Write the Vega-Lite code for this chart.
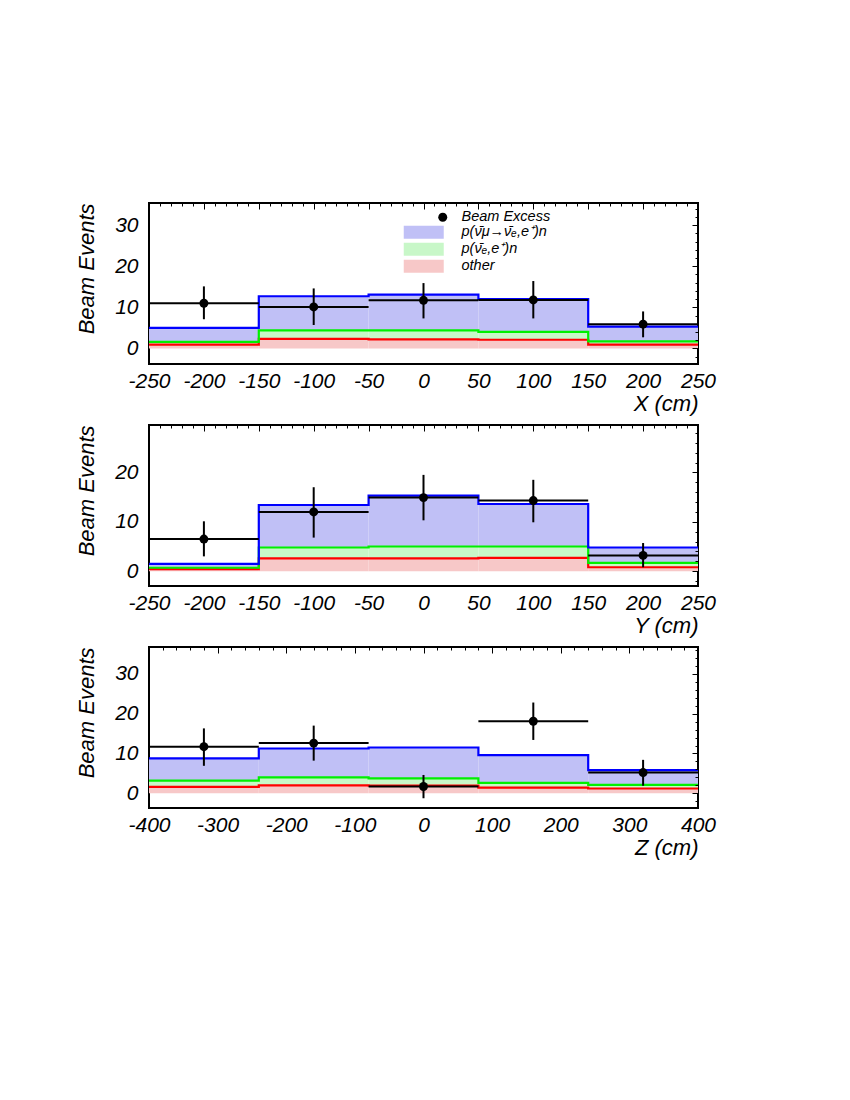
{
  "$schema": "https://vega.github.io/schema/vega-lite/v6.json",
  "background": "white",
  "padding": {"left": 73, "top": 201, "right": 20, "bottom": 20},
  "datasets": {
    "hist": [
      {"p": "X", "s": "oth", "x0": -250, "x1": -150, "lo": 0, "hi": 0.9},
      {"p": "X", "s": "oth", "x0": -150, "x1": -50, "lo": 0, "hi": 2.3},
      {"p": "X", "s": "oth", "x0": -50, "x1": 50, "lo": 0, "hi": 2.2},
      {"p": "X", "s": "oth", "x0": 50, "x1": 150, "lo": 0, "hi": 2.1},
      {"p": "X", "s": "oth", "x0": 150, "x1": 250, "lo": 0, "hi": 0.9},
      {"p": "X", "s": "nue", "x0": -250, "x1": -150, "lo": 0.9, "hi": 1.6},
      {"p": "X", "s": "nue", "x0": -150, "x1": -50, "lo": 2.3, "hi": 4.4},
      {"p": "X", "s": "nue", "x0": -50, "x1": 50, "lo": 2.2, "hi": 4.4},
      {"p": "X", "s": "nue", "x0": 50, "x1": 150, "lo": 2.1, "hi": 4.0},
      {"p": "X", "s": "nue", "x0": 150, "x1": 250, "lo": 0.9, "hi": 1.7},
      {"p": "X", "s": "osc", "x0": -250, "x1": -150, "lo": 1.6, "hi": 5.0},
      {"p": "X", "s": "osc", "x0": -150, "x1": -50, "lo": 4.4, "hi": 12.7},
      {"p": "X", "s": "osc", "x0": -50, "x1": 50, "lo": 4.4, "hi": 13.1},
      {"p": "X", "s": "osc", "x0": 50, "x1": 150, "lo": 4.0, "hi": 12.0},
      {"p": "X", "s": "osc", "x0": 150, "x1": 250, "lo": 1.7, "hi": 5.3},
      {"p": "Y", "s": "oth", "x0": -250, "x1": -150, "lo": 0, "hi": 0.4},
      {"p": "Y", "s": "oth", "x0": -150, "x1": -50, "lo": 0, "hi": 2.6},
      {"p": "Y", "s": "oth", "x0": -50, "x1": 50, "lo": 0, "hi": 2.6},
      {"p": "Y", "s": "oth", "x0": 50, "x1": 150, "lo": 0, "hi": 2.7},
      {"p": "Y", "s": "oth", "x0": 150, "x1": 250, "lo": 0, "hi": 0.8},
      {"p": "Y", "s": "nue", "x0": -250, "x1": -150, "lo": 0.4, "hi": 0.7},
      {"p": "Y", "s": "nue", "x0": -150, "x1": -50, "lo": 2.6, "hi": 4.8},
      {"p": "Y", "s": "nue", "x0": -50, "x1": 50, "lo": 2.6, "hi": 5.0},
      {"p": "Y", "s": "nue", "x0": 50, "x1": 150, "lo": 2.7, "hi": 5.0},
      {"p": "Y", "s": "nue", "x0": 150, "x1": 250, "lo": 0.8, "hi": 1.7},
      {"p": "Y", "s": "osc", "x0": -250, "x1": -150, "lo": 0.7, "hi": 1.5},
      {"p": "Y", "s": "osc", "x0": -150, "x1": -50, "lo": 4.8, "hi": 13.4},
      {"p": "Y", "s": "osc", "x0": -50, "x1": 50, "lo": 5.0, "hi": 15.3},
      {"p": "Y", "s": "osc", "x0": 50, "x1": 150, "lo": 5.0, "hi": 13.6},
      {"p": "Y", "s": "osc", "x0": 150, "x1": 250, "lo": 1.7, "hi": 4.8},
      {"p": "Z", "s": "oth", "x0": -400, "x1": -240, "lo": 0, "hi": 1.6},
      {"p": "Z", "s": "oth", "x0": -240, "x1": -80, "lo": 0, "hi": 2.0},
      {"p": "Z", "s": "oth", "x0": -80, "x1": 80, "lo": 0, "hi": 1.9},
      {"p": "Z", "s": "oth", "x0": 80, "x1": 240, "lo": 0, "hi": 1.4},
      {"p": "Z", "s": "oth", "x0": 240, "x1": 400, "lo": 0, "hi": 1.2},
      {"p": "Z", "s": "nue", "x0": -400, "x1": -240, "lo": 1.6, "hi": 3.2},
      {"p": "Z", "s": "nue", "x0": -240, "x1": -80, "lo": 2.0, "hi": 4.0},
      {"p": "Z", "s": "nue", "x0": -80, "x1": 80, "lo": 1.9, "hi": 3.75},
      {"p": "Z", "s": "nue", "x0": 80, "x1": 240, "lo": 1.4, "hi": 2.6},
      {"p": "Z", "s": "nue", "x0": 240, "x1": 400, "lo": 1.2, "hi": 2.1},
      {"p": "Z", "s": "osc", "x0": -400, "x1": -240, "lo": 3.2, "hi": 8.75},
      {"p": "Z", "s": "osc", "x0": -240, "x1": -80, "lo": 4.0, "hi": 11.25},
      {"p": "Z", "s": "osc", "x0": -80, "x1": 80, "lo": 3.75, "hi": 11.5},
      {"p": "Z", "s": "osc", "x0": 80, "x1": 240, "lo": 2.6, "hi": 9.6},
      {"p": "Z", "s": "osc", "x0": 240, "x1": 400, "lo": 2.1, "hi": 5.8}
    ],
    "pts": [
      {"p": "X", "s": "Beam Excess", "x": -200, "xlo": -250, "xhi": -150, "y": 11.0, "ylo": 7.1, "yhi": 15.1},
      {"p": "X", "s": "Beam Excess", "x": -100, "xlo": -150, "xhi": -50, "y": 10.1, "ylo": 5.7, "yhi": 14.6},
      {"p": "X", "s": "Beam Excess", "x": 0, "xlo": -50, "xhi": 50, "y": 11.7, "ylo": 7.3, "yhi": 15.9},
      {"p": "X", "s": "Beam Excess", "x": 100, "xlo": 50, "xhi": 150, "y": 11.8, "ylo": 7.3, "yhi": 16.4},
      {"p": "X", "s": "Beam Excess", "x": 200, "xlo": 150, "xhi": 250, "y": 5.9, "ylo": 2.7, "yhi": 9.0},
      {"p": "Y", "s": "Beam Excess", "x": -200, "xlo": -250, "xhi": -150, "y": 6.5, "ylo": 3.0, "yhi": 10.1},
      {"p": "Y", "s": "Beam Excess", "x": -100, "xlo": -150, "xhi": -50, "y": 12.0, "ylo": 6.8, "yhi": 17.0},
      {"p": "Y", "s": "Beam Excess", "x": 0, "xlo": -50, "xhi": 50, "y": 14.9, "ylo": 10.3, "yhi": 19.5},
      {"p": "Y", "s": "Beam Excess", "x": 100, "xlo": 50, "xhi": 150, "y": 14.3, "ylo": 9.9, "yhi": 18.5},
      {"p": "Y", "s": "Beam Excess", "x": 200, "xlo": 150, "xhi": 250, "y": 3.2, "ylo": 0.8, "yhi": 5.7},
      {"p": "Z", "s": "Beam Excess", "x": -320, "xlo": -400, "xhi": -240, "y": 11.7, "ylo": 6.9, "yhi": 16.3},
      {"p": "Z", "s": "Beam Excess", "x": -160, "xlo": -240, "xhi": -80, "y": 12.6, "ylo": 8.2, "yhi": 17.0},
      {"p": "Z", "s": "Beam Excess", "x": 0, "xlo": -80, "xhi": 80, "y": 1.7, "ylo": -1.25, "yhi": 4.6},
      {"p": "Z", "s": "Beam Excess", "x": 160, "xlo": 80, "xhi": 240, "y": 18.1, "ylo": 13.4, "yhi": 22.8},
      {"p": "Z", "s": "Beam Excess", "x": 320, "xlo": 240, "xhi": 400, "y": 5.2, "ylo": 1.9, "yhi": 8.4}
    ]
  },
  "config": {
    "view": {"stroke": "black", "strokeWidth": 2},
    "axis": {
      "labelFont": "Liberation Sans", "labelFontStyle": "italic", "labelFontSize": 21, "labelColor": "black",
      "titleFont": "Liberation Sans", "titleFontStyle": "italic", "titleFontWeight": "normal", "titleFontSize": 22, "titleColor": "black",
      "grid": false, "domain": false, "ticks": false, "tickColor": "black", "labelOverlap": false, "labelFlush": false
    }
  },
  "spacing": 61,
  "bounds": "flush",
  "resolve": {"scale": {"shape": "independent", "color": "independent"}, "legend": {"shape": "independent", "color": "independent"}},
  "vconcat": [
    {
      "width": 549, "height": 161,
      "resolve": {"axis": {"x": "independent", "y": "independent"}},
      "layer": [
        {
          "data": {"name": "hist"},
          "transform": [{"filter": "datum.p === 'X'"}],
          "mark": {"type": "rect"},
          "encoding": {
            "x": {"field": "x0", "type": "quantitative", "scale": {"domain": [-250, 250], "nice": false, "zero": false},
              "axis": {"values": [-250, -200, -150, -100, -50, 0, 50, 100, 150, 200, 250], "labelPadding": 6,
                "labelExpr": "datum.value < 0 ? '-' + abs(datum.value) : '' + datum.value",
                "title": "X (cm)", "titleX": 549, "titleY": 46.5, "titleAlign": "right", "titleBaseline": "alphabetic"}},
            "x2": {"field": "x1"},
            "y": {"field": "lo", "type": "quantitative", "scale": {"domain": [-3.8, 35.4], "nice": false, "zero": false},
              "axis": {"values": [0, 10, 20, 30], "labelPadding": 11, "title": "Beam Events", "titleX": -56, "titleY": 0, "titleAlign": "right", "titleBaseline": "alphabetic", "titleAngle": -90}},
            "y2": {"field": "hi"},
            "fill": {"field": "s", "type": "nominal", "scale": {"domain": ["osc", "nue", "oth"], "range": ["#c0c0f6", "#c8f7c8", "#f7c8c8"]}, "legend": null}
          }
        },
        {
          "data": {"name": "hist"},
          "transform": [{"filter": "datum.p === 'X'"}, {"fold": ["x0", "x1"], "as": ["k", "xv"]}],
          "mark": {"type": "line", "strokeWidth": 2.2},
          "encoding": {
            "x": {"field": "xv", "type": "quantitative", "scale": {"domain": [-250, 250], "nice": false, "zero": false},
              "axis": {"values": [-250, -200, -150, -100, -50, 0, 50, 100, 150, 200, 250], "labels": false, "ticks": true, "tickSize": 6, "offset": -6, "title": null, "zindex": 1}},
            "y": {"field": "hi", "type": "quantitative", "scale": {"domain": [-3.8, 35.4], "nice": false, "zero": false},
              "axis": {"values": [0, 10, 20, 30], "labels": false, "ticks": true, "tickSize": 6, "offset": -6, "title": null, "zindex": 1}},
            "stroke": {"field": "s", "type": "nominal", "scale": {"domain": ["osc", "nue", "oth"], "range": ["#0000ff", "#00f000", "#ff0000"]}, "legend": null},
            "order": [{"field": "xv", "type": "quantitative"}, {"field": "k", "type": "nominal", "sort": "descending"}]
          }
        },
        {
          "data": {"name": "pts"},
          "transform": [{"filter": "datum.p === 'X'"}],
          "mark": {"type": "rule", "strokeWidth": 2, "color": "black"},
          "encoding": {
            "x": {"field": "xlo", "type": "quantitative", "scale": {"domain": [-250, 250], "nice": false, "zero": false},
              "axis": {"values": [-240, -230, -220, -210, -190, -180, -170, -160, -140, -130, -120, -110, -90, -80, -70, -60, -40, -30, -20, -10, 10, 20, 30, 40, 60, 70, 80, 90, 110, 120, 130, 140, 160, 170, 180, 190, 210, 220, 230, 240], "labels": false, "ticks": true, "tickSize": 3, "offset": -3, "title": null, "zindex": 1}},
            "x2": {"field": "xhi"},
            "y": {"field": "y", "type": "quantitative", "scale": {"domain": [-3.8, 35.4], "nice": false, "zero": false},
              "axis": {"values": [-2, 2, 4, 6, 8, 12, 14, 16, 18, 22, 24, 26, 28, 32, 34], "labels": false, "ticks": true, "tickSize": 3, "offset": -3, "title": null, "zindex": 1}}
          }
        },
        {
          "data": {"name": "pts"},
          "transform": [{"filter": "datum.p === 'X'"}],
          "mark": {"type": "rule", "strokeWidth": 2, "color": "black"},
          "encoding": {
            "x": {"field": "x", "type": "quantitative", "scale": {"domain": [-250, 250], "nice": false, "zero": false}, "axis": null},
            "y": {"field": "ylo", "type": "quantitative", "scale": {"domain": [-3.8, 35.4], "nice": false, "zero": false}, "axis": null},
            "y2": {"field": "yhi"}
          }
        },
        {
          "data": {"name": "pts"},
          "transform": [{"filter": "datum.p === 'X'"}],
          "mark": {"type": "point", "filled": true, "size": 80, "color": "black", "opacity": 1},
          "encoding": {
            "x": {"field": "x", "type": "quantitative", "scale": {"domain": [-250, 250], "nice": false, "zero": false}, "axis": null},
            "y": {"field": "y", "type": "quantitative", "scale": {"domain": [-3.8, 35.4], "nice": false, "zero": false}, "axis": null}
          }
        },
        {
          "data": {"name": "pts"},
          "transform": [{"filter": "datum.p === 'none'"}],
          "mark": {"type": "point", "filled": true, "opacity": 1},
          "encoding": {
            "x": {"field": "x", "type": "quantitative", "scale": {"domain": [-250, 250], "nice": false, "zero": false}, "axis": null},
            "y": {"field": "y", "type": "quantitative", "scale": {"domain": [-3.8, 35.4], "nice": false, "zero": false}, "axis": null},
            "color": {"field": "s", "type": "nominal",
              "scale": {"domain": ["Beam Excess", "p(ν̄μ→ν̄ₑ,e⁺)n", "p(ν̄ₑ,e⁺)n", "other"], "range": ["#000000", "#c0c0f6", "#c8f7c8", "#f7c8c8"]},
              "legend": {"orient": "none", "legendX": 267.5, "legendY": 7, "title": null, "padding": 0,
                "labelFont": "Liberation Sans", "labelFontStyle": "italic", "labelFontSize": 14.5, "labelColor": "black",
                "symbolSize": 144, "labelOffset": 30.5, "rowPadding": -4, "symbolStrokeColor": "#888888", "symbolStrokeWidth": 1.2, "symbolOpacity": 1}},
            "shape": {"field": "s", "type": "nominal",
              "scale": {"domain": ["Beam Excess", "p(ν̄μ→ν̄ₑ,e⁺)n", "p(ν̄ₑ,e⁺)n", "other"],
                "range": ["M2.417,0A0.75,0.75,0,1,1,3.917,0A0.75,0.75,0,1,1,2.417,0Z", "M-3.333,-1.083H3.333V1.083H-3.333Z", "M-3.333,-1.083H3.333V1.083H-3.333Z", "M-3.333,-1.083H3.333V1.083H-3.333Z"]},
              "legend": {"orient": "none", "legendX": 267.5, "legendY": 7, "title": null, "padding": 0,
                "labelFont": "Liberation Sans", "labelFontStyle": "italic", "labelFontSize": 14.5, "labelColor": "black",
                "symbolSize": 144, "labelOffset": 30.5, "rowPadding": -4, "symbolStrokeColor": "#888888", "symbolStrokeWidth": 1.2, "symbolOpacity": 1}}
          }
        }
      ]
    },
    {
      "width": 549, "height": 161,
      "resolve": {"axis": {"x": "independent", "y": "independent"}},
      "layer": [
        {
          "data": {"name": "hist"},
          "transform": [{"filter": "datum.p === 'Y'"}],
          "mark": {"type": "rect"},
          "encoding": {
            "x": {"field": "x0", "type": "quantitative", "scale": {"domain": [-250, 250], "nice": false, "zero": false},
              "axis": {"values": [-250, -200, -150, -100, -50, 0, 50, 100, 150, 200, 250], "labelPadding": 6,
                "labelExpr": "datum.value < 0 ? '-' + abs(datum.value) : '' + datum.value",
                "title": "Y (cm)", "titleX": 549, "titleY": 46.5, "titleAlign": "right", "titleBaseline": "alphabetic"}},
            "x2": {"field": "x1"},
            "y": {"field": "lo", "type": "quantitative", "scale": {"domain": [-3.0, 29.6], "nice": false, "zero": false},
              "axis": {"values": [0, 10, 20], "labelPadding": 11, "title": "Beam Events", "titleX": -56, "titleY": 0, "titleAlign": "right", "titleBaseline": "alphabetic", "titleAngle": -90}},
            "y2": {"field": "hi"},
            "fill": {"field": "s", "type": "nominal", "scale": {"domain": ["osc", "nue", "oth"], "range": ["#c0c0f6", "#c8f7c8", "#f7c8c8"]}, "legend": null}
          }
        },
        {
          "data": {"name": "hist"},
          "transform": [{"filter": "datum.p === 'Y'"}, {"fold": ["x0", "x1"], "as": ["k", "xv"]}],
          "mark": {"type": "line", "strokeWidth": 2.2},
          "encoding": {
            "x": {"field": "xv", "type": "quantitative", "scale": {"domain": [-250, 250], "nice": false, "zero": false},
              "axis": {"values": [-250, -200, -150, -100, -50, 0, 50, 100, 150, 200, 250], "labels": false, "ticks": true, "tickSize": 6, "offset": -6, "title": null, "zindex": 1}},
            "y": {"field": "hi", "type": "quantitative", "scale": {"domain": [-3.0, 29.6], "nice": false, "zero": false},
              "axis": {"values": [0, 10, 20], "labels": false, "ticks": true, "tickSize": 6, "offset": -6, "title": null, "zindex": 1}},
            "stroke": {"field": "s", "type": "nominal", "scale": {"domain": ["osc", "nue", "oth"], "range": ["#0000ff", "#00f000", "#ff0000"]}, "legend": null},
            "order": [{"field": "xv", "type": "quantitative"}, {"field": "k", "type": "nominal", "sort": "descending"}]
          }
        },
        {
          "data": {"name": "pts"},
          "transform": [{"filter": "datum.p === 'Y'"}],
          "mark": {"type": "rule", "strokeWidth": 2, "color": "black"},
          "encoding": {
            "x": {"field": "xlo", "type": "quantitative", "scale": {"domain": [-250, 250], "nice": false, "zero": false},
              "axis": {"values": [-240, -230, -220, -210, -190, -180, -170, -160, -140, -130, -120, -110, -90, -80, -70, -60, -40, -30, -20, -10, 10, 20, 30, 40, 60, 70, 80, 90, 110, 120, 130, 140, 160, 170, 180, 190, 210, 220, 230, 240], "labels": false, "ticks": true, "tickSize": 3, "offset": -3, "title": null, "zindex": 1}},
            "x2": {"field": "xhi"},
            "y": {"field": "y", "type": "quantitative", "scale": {"domain": [-3.0, 29.6], "nice": false, "zero": false},
              "axis": {"values": [-2, 2, 4, 6, 8, 12, 14, 16, 18, 22, 24, 26, 28], "labels": false, "ticks": true, "tickSize": 3, "offset": -3, "title": null, "zindex": 1}}
          }
        },
        {
          "data": {"name": "pts"},
          "transform": [{"filter": "datum.p === 'Y'"}],
          "mark": {"type": "rule", "strokeWidth": 2, "color": "black"},
          "encoding": {
            "x": {"field": "x", "type": "quantitative", "scale": {"domain": [-250, 250], "nice": false, "zero": false}, "axis": null},
            "y": {"field": "ylo", "type": "quantitative", "scale": {"domain": [-3.0, 29.6], "nice": false, "zero": false}, "axis": null},
            "y2": {"field": "yhi"}
          }
        },
        {
          "data": {"name": "pts"},
          "transform": [{"filter": "datum.p === 'Y'"}],
          "mark": {"type": "point", "filled": true, "size": 80, "color": "black", "opacity": 1},
          "encoding": {
            "x": {"field": "x", "type": "quantitative", "scale": {"domain": [-250, 250], "nice": false, "zero": false}, "axis": null},
            "y": {"field": "y", "type": "quantitative", "scale": {"domain": [-3.0, 29.6], "nice": false, "zero": false}, "axis": null}
          }
        }
      ]
    },
    {
      "width": 549, "height": 161,
      "resolve": {"axis": {"x": "independent", "y": "independent"}},
      "layer": [
        {
          "data": {"name": "hist"},
          "transform": [{"filter": "datum.p === 'Z'"}],
          "mark": {"type": "rect"},
          "encoding": {
            "x": {"field": "x0", "type": "quantitative", "scale": {"domain": [-400, 400], "nice": false, "zero": false},
              "axis": {"values": [-400, -300, -200, -100, 0, 100, 200, 300, 400], "labelPadding": 6,
                "labelExpr": "datum.value < 0 ? '-' + abs(datum.value) : '' + datum.value",
                "title": "Z (cm)", "titleX": 549, "titleY": 46.5, "titleAlign": "right", "titleBaseline": "alphabetic"}},
            "x2": {"field": "x1"},
            "y": {"field": "lo", "type": "quantitative", "scale": {"domain": [-3.7, 36.75], "nice": false, "zero": false},
              "axis": {"values": [0, 10, 20, 30], "labelPadding": 11, "title": "Beam Events", "titleX": -56, "titleY": 0, "titleAlign": "right", "titleBaseline": "alphabetic", "titleAngle": -90}},
            "y2": {"field": "hi"},
            "fill": {"field": "s", "type": "nominal", "scale": {"domain": ["osc", "nue", "oth"], "range": ["#c0c0f6", "#c8f7c8", "#f7c8c8"]}, "legend": null}
          }
        },
        {
          "data": {"name": "hist"},
          "transform": [{"filter": "datum.p === 'Z'"}, {"fold": ["x0", "x1"], "as": ["k", "xv"]}],
          "mark": {"type": "line", "strokeWidth": 2.2},
          "encoding": {
            "x": {"field": "xv", "type": "quantitative", "scale": {"domain": [-400, 400], "nice": false, "zero": false},
              "axis": {"values": [-400, -300, -200, -100, 0, 100, 200, 300, 400], "labels": false, "ticks": true, "tickSize": 6, "offset": -6, "title": null, "zindex": 1}},
            "y": {"field": "hi", "type": "quantitative", "scale": {"domain": [-3.7, 36.75], "nice": false, "zero": false},
              "axis": {"values": [0, 10, 20, 30], "labels": false, "ticks": true, "tickSize": 6, "offset": -6, "title": null, "zindex": 1}},
            "stroke": {"field": "s", "type": "nominal", "scale": {"domain": ["osc", "nue", "oth"], "range": ["#0000ff", "#00f000", "#ff0000"]}, "legend": null},
            "order": [{"field": "xv", "type": "quantitative"}, {"field": "k", "type": "nominal", "sort": "descending"}]
          }
        },
        {
          "data": {"name": "pts"},
          "transform": [{"filter": "datum.p === 'Z'"}],
          "mark": {"type": "rule", "strokeWidth": 2, "color": "black"},
          "encoding": {
            "x": {"field": "xlo", "type": "quantitative", "scale": {"domain": [-400, 400], "nice": false, "zero": false},
              "axis": {"values": [-380, -360, -340, -320, -280, -260, -240, -220, -180, -160, -140, -120, -80, -60, -40, -20, 20, 40, 60, 80, 120, 140, 160, 180, 220, 240, 260, 280, 320, 340, 360, 380], "labels": false, "ticks": true, "tickSize": 3, "offset": -3, "title": null, "zindex": 1}},
            "x2": {"field": "xhi"},
            "y": {"field": "y", "type": "quantitative", "scale": {"domain": [-3.7, 36.75], "nice": false, "zero": false},
              "axis": {"values": [-2, 2, 4, 6, 8, 12, 14, 16, 18, 22, 24, 26, 28, 32, 34, 36], "labels": false, "ticks": true, "tickSize": 3, "offset": -3, "title": null, "zindex": 1}}
          }
        },
        {
          "data": {"name": "pts"},
          "transform": [{"filter": "datum.p === 'Z'"}],
          "mark": {"type": "rule", "strokeWidth": 2, "color": "black"},
          "encoding": {
            "x": {"field": "x", "type": "quantitative", "scale": {"domain": [-400, 400], "nice": false, "zero": false}, "axis": null},
            "y": {"field": "ylo", "type": "quantitative", "scale": {"domain": [-3.7, 36.75], "nice": false, "zero": false}, "axis": null},
            "y2": {"field": "yhi"}
          }
        },
        {
          "data": {"name": "pts"},
          "transform": [{"filter": "datum.p === 'Z'"}],
          "mark": {"type": "point", "filled": true, "size": 80, "color": "black", "opacity": 1},
          "encoding": {
            "x": {"field": "x", "type": "quantitative", "scale": {"domain": [-400, 400], "nice": false, "zero": false}, "axis": null},
            "y": {"field": "y", "type": "quantitative", "scale": {"domain": [-3.7, 36.75], "nice": false, "zero": false}, "axis": null}
          }
        }
      ]
    }
  ]
}
